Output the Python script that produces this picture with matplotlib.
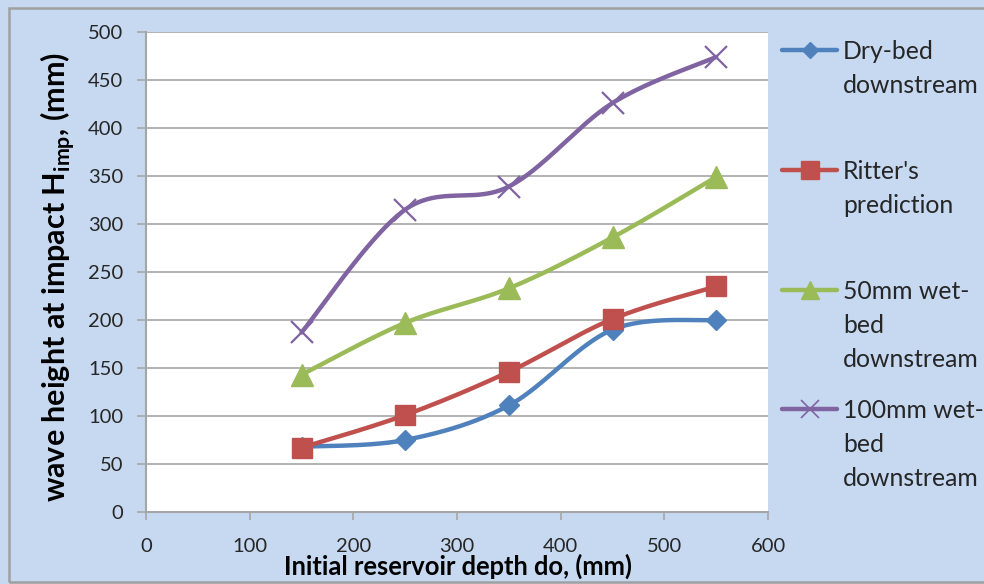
import numpy as np
import matplotlib.pyplot as plt
from matplotlib.lines import Line2D
from matplotlib.patches import Rectangle

plt.rcParams['font.family'] = ['Lato', 'DejaVu Sans']
plt.rcParams['mathtext.fontset'] = 'custom'
plt.rcParams['mathtext.rm'] = 'Lato:bold'
plt.rcParams['mathtext.bf'] = 'Lato:bold'

# measured wave heights at impact (mm) against initial reservoir depth (mm)
depth = [150, 250, 350, 450, 550]
dry_bed = [68, 75, 111, 190, 200]
ritter = [67, 101, 146, 201, 235]
wet_50 = [143, 197, 233, 286, 349]
wet_100 = [187, 315, 339, 426, 474]

series_names = ["Dry-bed\ndownstream", "Ritter's\nprediction",
                "50mm wet-\nbed\ndownstream", "100mm wet-\nbed\ndownstream"]
series_values = [dry_bed, ritter, wet_50, wet_100]
colors = ["#4F81BD", "#C0504D", "#9BBB59", "#8064A2"]
markers = ["D", "s", "^", "x"]
marker_sizes = [10, 15, 16, 16]

W, H = 984, 584
BG = "#C6D9F1"
GREY = "#A6A6A6"


def smooth(xs, ys, n=40):
    # cubic bezier through each point, handles from neighbouring points
    p = np.column_stack([xs, ys]).astype(float)
    out = []
    for i in range(len(p) - 1):
        p0 = p[max(i - 1, 0)]
        p1 = p[i]
        p2 = p[i + 1]
        p3 = p[min(i + 2, len(p) - 1)]
        c1 = p1 + (p2 - p0) / 6
        c2 = p2 - (p3 - p1) / 6
        t = np.linspace(0, 1, n)[:, None]
        seg = ((1 - t) ** 3) * p1 + 3 * ((1 - t) ** 2) * t * c1 \
            + 3 * (1 - t) * t ** 2 * c2 + t ** 3 * p2
        out.append(seg if i == 0 else seg[1:])
    out = np.vstack(out)
    return out[:, 0], out[:, 1]


fig = plt.figure(figsize=(W / 100, H / 100), dpi=100, facecolor=BG)
ax = fig.add_axes([146 / W, 1 - 512 / H, (768 - 146) / W, (512 - 32) / H])
ax.set_facecolor("white")

for i, (vals, c, m, ms) in enumerate(zip(series_values, colors, markers, marker_sizes)):
    sx, sy = smooth(depth, vals)
    ax.plot(sx, sy, color=c, lw=3.2, solid_capstyle="round", zorder=3 + i)
    mew = 1.6 if m == "x" else 1
    ax.plot(depth, vals, linestyle="none", marker=m, ms=ms, color=c,
            mec=c, mew=mew, zorder=3 + i)

ax.set_xlim(0, 600)
ax.set_ylim(0, 500)
ax.set_xticks(range(0, 601, 100))
ax.set_yticks(range(0, 501, 50))
ax.yaxis.grid(True, color=GREY, lw=1.2)
ax.set_axisbelow(True)
for s in ["top", "right"]:
    ax.spines[s].set_visible(False)
for s in ["left", "bottom"]:
    ax.spines[s].set_color(GREY)
    ax.spines[s].set_linewidth(1.5)
ax.tick_params(axis="y", direction="out", length=6.5, width=1.2, color=GREY,
               labelsize=14.5, pad=10, labelcolor="#262626")
ax.tick_params(axis="x", direction="out", length=6, width=1.2, color=GREY,
               labelsize=14.5, pad=13, labelcolor="#262626")

fig.text(58 / W, 1 - 277 / H, r"wave height at impact H$_{\mathrm{imp}}$, (mm)",
         rotation=90, ha="center", va="center", fontsize=22, fontweight="bold",
         color="black")
fig.text(458 / W, 1 - 566 / H, "Initial reservoir depth do, (mm)",
         ha="center", va="center", fontsize=18.4, fontweight="bold",
         color="black")

# legend on the right, handle level with the first text line
entry_y = [50, 170, 290, 409]
for name, c, m, ms, y in zip(series_names, colors, markers, marker_sizes, entry_y):
    yf = 1 - y / H
    fig.add_artist(Line2D([782 / W, 837 / W], [yf, yf], color=c, lw=3.2,
                          solid_capstyle="round"))
    fig.add_artist(Line2D([809.5 / W], [yf], marker=m, ms=ms * 0.85, color=c,
                          mec=c, mew=1.2 if m == "x" else 1, linestyle="none"))
    fig.text(843 / W, 1 - (y - 10) / H, name, ha="left", va="top",
             fontsize=17.8, color="#262626", linespacing=1.58)

fig.add_artist(Rectangle((9 / W, 1 - 582 / H), 1.0, (582 - 8) / H,
                         transform=fig.transFigure, fill=False,
                         edgecolor="#A0A0A0", lw=1.8))

fig.savefig("out.png", dpi=100, facecolor=BG)
